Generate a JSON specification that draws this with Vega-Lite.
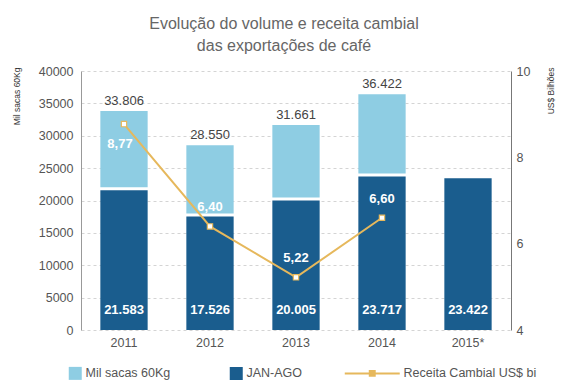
{
  "$schema": "https://vega.github.io/schema/vega-lite/v6.json",
  "width": 430,
  "height": 259,
  "autosize": {"type": "none"},
  "padding": {"left": 81, "top": 71, "right": 59, "bottom": 60},
  "config": {
    "font": "Liberation Sans",
    "view": {"stroke": null},
    "locale": {"number": {"decimal": ",", "thousands": ".", "grouping": [3], "currency": ["", ""]}}
  },
  "title": {
    "text": ["Evolução do volume e receita cambial", "das exportações de café"],
    "fontSize": 16,
    "fontWeight": "normal",
    "color": "#666666",
    "anchor": "middle",
    "frame": "group",
    "baseline": "bottom",
    "lineHeight": 22,
    "offset": 14,
    "dy": 19,
    "dx": -12
  },
  "data": {
    "values": [
      {"ano": "2011", "janago": 21583, "total": 33806, "receita": 8.77},
      {"ano": "2012", "janago": 17526, "total": 28550, "receita": 6.40},
      {"ano": "2013", "janago": 20005, "total": 31661, "receita": 5.22},
      {"ano": "2014", "janago": 23717, "total": 36422, "receita": 6.60},
      {"ano": "2015*", "janago": 23422, "total": null, "receita": null}
    ]
  },
  "encoding": {
    "x": {
      "field": "ano", "type": "nominal",
      "scale": {"paddingInner": 0.45, "paddingOuter": 0.225},
      "axis": {"title": null, "domain": false, "ticks": false, "labelAngle": 0, "labelFontSize": 12.5, "labelColor": "#555555", "labelPadding": 6}
    }
  },
  "layer": [
    {
      "mark": {"type": "bar"},
      "encoding": {
        "y": {
          "field": "janago", "type": "quantitative",
          "scale": {"domain": [0, 40000], "nice": false},
          "axis": {
            "orient": "left",
            "title": "Mil sacas 60Kg", "titleFontSize": 8.5, "titleFontWeight": "normal", "titleColor": "#333333",
            "titleAngle": -90, "titleX": -65, "titleY": -4, "titleAlign": "right", "titleBaseline": "middle",
            "values": [0, 5000, 10000, 15000, 20000, 25000, 30000, 35000, 40000],
            "labelOverlap": false,
            "format": "d", "labelFontSize": 12.5, "labelColor": "#555555", "labelPadding": 8,
            "ticks": false, "domainColor": "#999999", "grid": true, "gridColor": "#d4d4d4", "gridDash": [3, 3]
          }
        },
        "color": {
          "datum": "JAN-AGO",
          "scale": {"domain": ["Mil sacas 60Kg", "JAN-AGO", "Receita Cambial US$ bi"], "range": ["#8ecde3", "#1a5d8e", "#e6b85c"]},
          "legend": {
            "orient": "none", "legendX": -12, "legendY": 296, "direction": "horizontal", "title": null,
            "padding": 0, "labelFontSize": 12.5, "labelColor": "#555555", "labelOffset": 4,
            "symbolType": "square", "symbolSize": 169, "columnPadding": 37,
            "encode": {
              "symbols": {"update": {
                "shape": {"signal": "datum.value === 'Receita Cambial US$ bi' ? 'M-4.23,0H-0.38M0.38,0H4.23M-0.38,-0.38H0.38V0.38H-0.38Z' : datum.value === 'JAN-AGO' ? 'M-4.3,0H-4.2M-1,-1H1V1H-1Z' : 'square'"},
                "fill": {"signal": "datum.value === 'Mil sacas 60Kg' ? '#8ecde3' : datum.value === 'JAN-AGO' ? '#1a5d8e' : '#ffffff'"},
                "stroke": {"signal": "datum.value === 'Receita Cambial US$ bi' ? '#e6b85c' : null"},
                "strokeWidth": {"signal": "datum.value === 'Receita Cambial US$ bi' ? 2 : 0"},
                "opacity": {"value": 1}
              }},
              "labels": {"update": {
                "dx": {"signal": "datum.value === 'Receita Cambial US$ bi' ? 21 : 0"}
              }}
            }
          }
        }
      }
    },
    {
      "mark": {"type": "bar", "y2Offset": -3},
      "encoding": {
        "y": {"field": "total", "type": "quantitative", "scale": {"domain": [0, 40000], "nice": false}, "axis": null},
        "y2": {"field": "janago"},
        "color": {"datum": "Mil sacas 60Kg"}
      }
    },
    {
      "mark": {"type": "text", "baseline": "bottom", "dy": -3, "fontSize": 13, "color": "#444444"},
      "encoding": {
        "y": {"field": "total", "type": "quantitative", "scale": {"domain": [0, 40000], "nice": false}, "axis": null},
        "text": {"field": "total", "type": "quantitative", "format": ",d"}
      }
    },
    {
      "mark": {"type": "text", "baseline": "alphabetic", "dy": -16, "fontSize": 13, "fontWeight": "bold", "color": "#ffffff"},
      "encoding": {
        "y": {"datum": 0, "type": "quantitative", "scale": {"domain": [0, 40000], "nice": false}, "axis": null},
        "text": {"field": "janago", "type": "quantitative", "format": ",d"}
      }
    },
    {
      "mark": {"type": "line", "strokeWidth": 2},
      "encoding": {
        "y": {
          "field": "receita", "type": "quantitative",
          "scale": {"domain": [4, 10], "nice": false},
          "axis": {
            "orient": "right", "title": "US$ Bilhões", "titleFontSize": 8.5, "titleFontWeight": "normal", "titleColor": "#333333",
            "titleAngle": -90, "titleX": 39, "titleY": -4, "titleAlign": "right", "titleBaseline": "middle",
            "values": [4, 6, 8, 10], "format": "d", "grid": false,
            "labelFontSize": 12.5, "labelColor": "#555555", "labelPadding": 5,
            "tickSize": 0, "tickColor": "#777777", "domainColor": "#777777",
            "encode": {"ticks": {"update": {"x2": {"value": -10}, "strokeWidth": {"value": 1.5}}}}
          }
        },
        "color": {"datum": "Receita Cambial US$ bi"}
      }
    },
    {
      "mark": {"type": "point", "shape": "square", "filled": true, "fill": "#ffffff", "stroke": "#e6b85c", "strokeWidth": 1.2, "size": 28, "opacity": 1},
      "encoding": {
        "y": {"field": "receita", "type": "quantitative", "scale": {"domain": [4, 10], "nice": false}, "axis": null}
      }
    },
    {
      "transform": [{"filter": "datum.ano === '2011'"}],
      "mark": {"type": "text", "dy": 20, "dx": -4, "fontSize": 13, "fontWeight": "bold", "color": "#ffffff"},
      "encoding": {
        "y": {"field": "receita", "type": "quantitative", "scale": {"domain": [4, 10], "nice": false}, "axis": null},
        "text": {"field": "receita", "type": "quantitative", "format": ".2f"}
      }
    },
    {
      "transform": [{"filter": "datum.ano !== '2011' && isValid(datum.receita)"}],
      "mark": {"type": "text", "dy": -19, "fontSize": 13, "fontWeight": "bold", "color": "#ffffff"},
      "encoding": {
        "y": {"field": "receita", "type": "quantitative", "scale": {"domain": [4, 10], "nice": false}, "axis": null},
        "text": {"field": "receita", "type": "quantitative", "format": ".2f"}
      }
    }
  ],
  "resolve": {"scale": {"y": "independent"}}
}
